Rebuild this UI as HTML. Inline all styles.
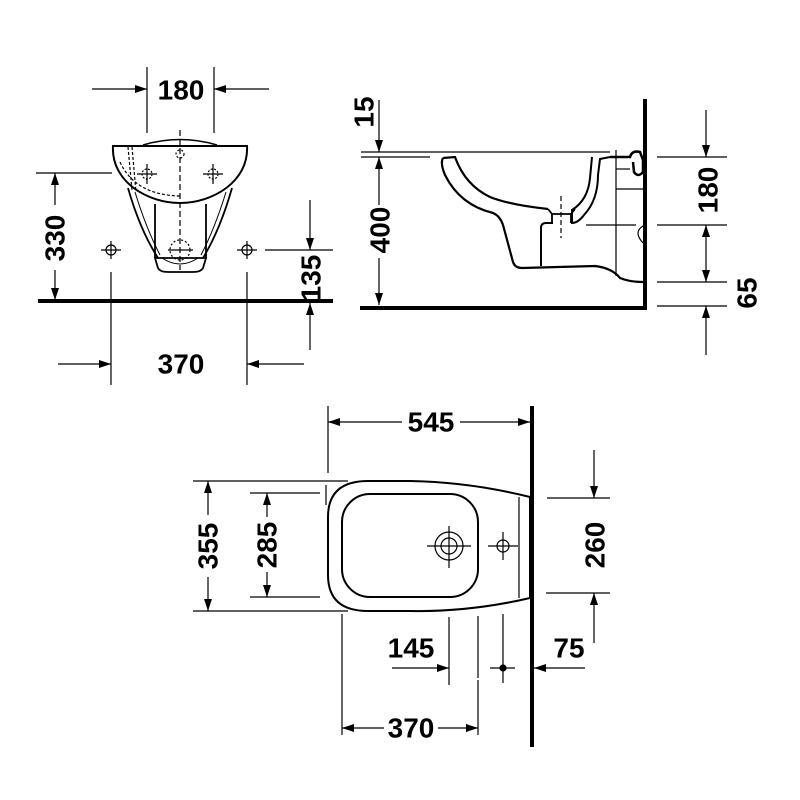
<!DOCTYPE html>
<html><head><meta charset="utf-8"><style>
html,body{margin:0;padding:0;background:#fff;}
svg{display:block}
text{font-family:"Liberation Sans",sans-serif;font-weight:bold;font-size:28px;fill:#000;text-anchor:middle;dominant-baseline:central}
</style></head><body>
<svg width="800" height="800" viewBox="0 0 800 800" xmlns="http://www.w3.org/2000/svg">
<defs>
<marker id="a" viewBox="0 0 12 8" refX="12" refY="4" markerWidth="12" markerHeight="8" markerUnits="userSpaceOnUse" orient="auto"><path d="M0,0 L12,4 L0,8 Z" fill="#000"/></marker>
</defs>
<g stroke="#000" stroke-width="1.2" fill="none">
<!-- FRONT VIEW -->
<line x1="147" y1="67" x2="147" y2="133"/><line x1="214" y1="67" x2="214" y2="133"/>
<line x1="92" y1="89" x2="147" y2="89" marker-end="url(#a)"/>
<line x1="269" y1="89" x2="214" y2="89" marker-end="url(#a)"/>
<path d="M143,145 Q180,134 217,145" stroke-width="1.5"/>
<path d="M113,146 L247,146 C249,182 212,203 180,203 C148,203 111,182 113,146 Z" stroke-width="2"/>
<path d="M128,188 Q140,230 158,258 M232,188 Q220,230 203,258" stroke-width="1.8"/>
<path d="M135,192 Q146,228 160,255 M226,192 Q215,228 201,255" stroke-width="1"/>
<path d="M155,204 L155,258 M206,204 L206,258" stroke-width="1.8"/>
<path d="M155,258 L158,268 Q160,272 168,272 L193,272 Q201,272 203,268 L206,258 Z" stroke-width="1.8"/>
<path d="M162,258 Q180,270 198,258" stroke-width="1"/>
<line x1="180" y1="130" x2="180" y2="270" stroke-dasharray="6,3"/>
<circle cx="180" cy="154" r="4" stroke-dasharray="2,2"/>
<circle cx="180" cy="250" r="10" stroke-dasharray="2,2"/>
<line x1="168" y1="250" x2="193" y2="250"/>
<path d="M128,147 L132,190 M132,147 L136,192 M120,162 Q135,195 180,196" stroke-dasharray="3,2"/>
<circle cx="147" cy="174" r="5" stroke-dasharray="2,1.5"/><line x1="137" y1="174" x2="157" y2="174"/><line x1="147" y1="164" x2="147" y2="184"/>
<circle cx="213" cy="174" r="5" stroke-dasharray="2,1.5"/><line x1="203" y1="174" x2="223" y2="174"/><line x1="213" y1="164" x2="213" y2="184"/>
<circle cx="111" cy="250" r="5"/><line x1="101" y1="250" x2="121" y2="250"/><line x1="111" y1="241" x2="111" y2="259"/>
<circle cx="247" cy="250" r="5"/><line x1="237" y1="250" x2="257" y2="250"/><line x1="247" y1="241" x2="247" y2="259"/>
<line x1="36" y1="173" x2="112" y2="173"/>
<line x1="55" y1="205" x2="55" y2="173" marker-end="url(#a)"/>
<line x1="55" y1="270" x2="55" y2="300" marker-end="url(#a)"/>
<line x1="38" y1="301" x2="333" y2="301" stroke-width="4"/>
<line x1="265" y1="250" x2="333" y2="250"/>
<line x1="310" y1="200" x2="310" y2="250" marker-end="url(#a)"/>
<line x1="310" y1="350" x2="310" y2="303" marker-end="url(#a)"/>
<line x1="111" y1="272" x2="111" y2="385"/><line x1="247" y1="272" x2="247" y2="385"/>
<line x1="58" y1="364" x2="111" y2="364" marker-end="url(#a)"/>
<line x1="304" y1="364" x2="247" y2="364" marker-end="url(#a)"/>

<!-- SIDE VIEW -->
<line x1="645" y1="99" x2="645" y2="310" stroke-width="4"/>
<line x1="360" y1="308" x2="647" y2="308" stroke-width="4"/>
<line x1="361" y1="152" x2="610" y2="152"/>
<line x1="361" y1="157" x2="430" y2="157"/>
<line x1="379" y1="100" x2="379" y2="152" marker-end="url(#a)"/>
<line x1="379" y1="205" x2="379" y2="157" marker-end="url(#a)"/>
<line x1="379" y1="258" x2="379" y2="305" marker-end="url(#a)"/>
<!-- bowl outer -->
<path d="M443,158 Q440,163 445,175 Q460,205 493,213 Q500,216 503,225 L513,262 Q515,268 522,268 L595,266 Q612,268 620,278 Q630,282 643,282" stroke-width="2.2"/>
<!-- bowl inner -->
<path d="M443,158 L455,157 Q465,185 490,197 Q510,205 548,209" stroke-width="2.2"/>
<path d="M541,266 L541,228 Q541,223 546,223 L553,223" stroke-width="2"/>
<!-- drain -->
<path d="M548,209 L552,214 L571,214 L575,209 M552,214 L552,223 M571,214 L571,223" stroke-width="1.8"/>
<!-- back wall of bowl -->
<path d="M592,157 L590,178 Q588,200 572,210 L572,223 Q578,223 584,215 Q598,200 598,175 L600,159 L610,157" stroke-width="2"/>
<line x1="561" y1="196" x2="561" y2="238" stroke-dasharray="5,3"/>
<line x1="586" y1="225" x2="636" y2="225"/>
<line x1="616" y1="150" x2="616" y2="276"/>
<line x1="616" y1="189" x2="643" y2="189"/>
<line x1="616" y1="169" x2="630" y2="169"/>
<path d="M610,157 L630,157 Q632,150 640,152 L643,160 L643,172 Q638,178 634,172 L633,162" stroke-width="2.5"/>
<path d="M643,226 Q633,232 643,243" />
<line x1="657" y1="157" x2="727" y2="157"/>
<line x1="657" y1="225" x2="727" y2="225"/>
<line x1="657" y1="282" x2="727" y2="282"/>
<line x1="657" y1="306" x2="727" y2="306"/>
<line x1="706" y1="110" x2="706" y2="157" marker-end="url(#a)"/>
<line x1="706" y1="250" x2="706" y2="225" marker-end="url(#a)"/>
<line x1="706" y1="250" x2="706" y2="282" marker-end="url(#a)"/>
<line x1="706" y1="355" x2="706" y2="306" marker-end="url(#a)"/>

<!-- PLAN VIEW -->
<line x1="532" y1="406" x2="532" y2="747" stroke-width="4"/>
<line x1="328" y1="406" x2="328" y2="473"/>
<line x1="402" y1="422" x2="328" y2="422" marker-end="url(#a)"/>
<line x1="460" y1="422" x2="530" y2="422" marker-end="url(#a)"/>
<path d="M368,481 L410,481 Q470,482 530,497 L530,598 Q470,612 410,611 L368,611 Q328,611 328,575 L328,517 Q328,481 368,481 Z" stroke-width="2"/>
<rect x="342" y="494" width="136" height="103" rx="28" stroke-width="2"/>
<line x1="519" y1="497" x2="519" y2="598"/>
<circle cx="449" cy="546" r="14"/><circle cx="449" cy="546" r="8"/>
<line x1="427" y1="546" x2="471" y2="546"/><line x1="449" y1="526" x2="449" y2="568"/>
<circle cx="503" cy="546" r="6"/>
<line x1="488" y1="546" x2="518" y2="546"/><line x1="503" y1="532" x2="503" y2="560"/>
<line x1="193" y1="481" x2="348" y2="481"/><line x1="193" y1="611" x2="348" y2="611"/>
<line x1="208" y1="515" x2="208" y2="481" marker-end="url(#a)"/>
<line x1="208" y1="577" x2="208" y2="611" marker-end="url(#a)"/>
<line x1="250" y1="493" x2="320" y2="493"/><line x1="250" y1="597" x2="320" y2="597"/>
<line x1="326" y1="485" x2="326" y2="505"/>
<line x1="267" y1="517" x2="267" y2="493" marker-end="url(#a)"/>
<line x1="267" y1="572" x2="267" y2="597" marker-end="url(#a)"/>
<line x1="547" y1="498" x2="610" y2="498"/><line x1="546" y1="593" x2="610" y2="593"/>
<line x1="594" y1="450" x2="594" y2="498" marker-end="url(#a)"/>
<line x1="594" y1="643" x2="594" y2="593" marker-end="url(#a)"/>
<line x1="449" y1="617" x2="449" y2="685"/>
<line x1="478" y1="616" x2="478" y2="678"/><line x1="478" y1="680" x2="478" y2="735"/>
<line x1="392" y1="668" x2="449" y2="668" marker-end="url(#a)"/>
<line x1="503" y1="614" x2="503" y2="683"/><line x1="490" y1="668" x2="515" y2="668"/>
<circle cx="503" cy="668" r="3" fill="#000"/>
<line x1="585" y1="668" x2="534" y2="668" marker-end="url(#a)"/>
<line x1="342" y1="614" x2="342" y2="735"/>
<line x1="384" y1="728" x2="342" y2="728" marker-end="url(#a)"/>
<line x1="438" y1="728" x2="478" y2="728" marker-end="url(#a)"/>
</g>
<g>
<text x="181" y="90">180</text>
<text x="181" y="364">370</text>
<text transform="translate(55,238) rotate(-90)">330</text>
<text transform="translate(311,278) rotate(-90)">135</text>
<text transform="translate(364,112) rotate(-90)">15</text>
<text transform="translate(380,230) rotate(-90)">400</text>
<text transform="translate(708,190) rotate(-90)">180</text>
<text transform="translate(747,293) rotate(-90)">65</text>
<text x="431" y="422">545</text>
<text transform="translate(208,546) rotate(-90)">355</text>
<text transform="translate(267,545) rotate(-90)">285</text>
<text transform="translate(595,545) rotate(-90)">260</text>
<text x="411" y="648">145</text>
<text x="569" y="648">75</text>
<text x="411" y="728">370</text>
</g>
</svg>
</body></html>
